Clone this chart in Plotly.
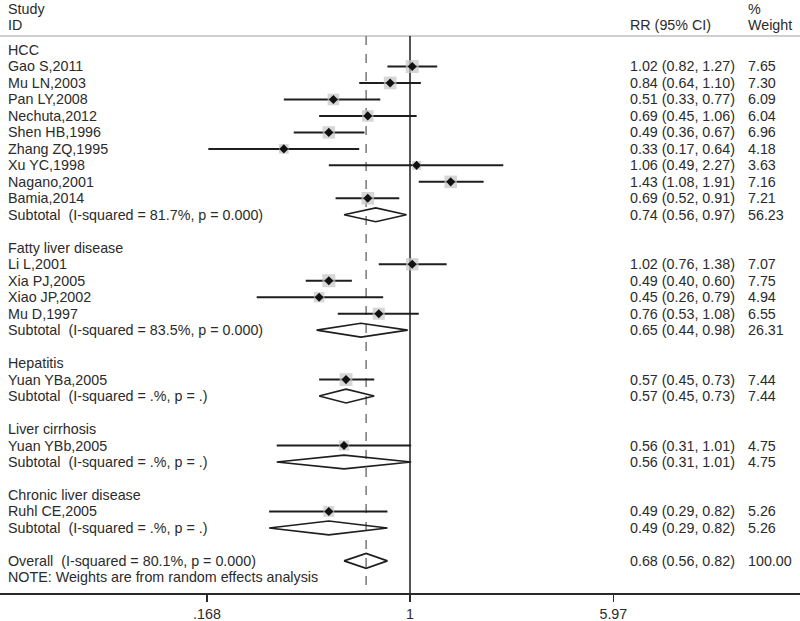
import plotly.graph_objects as go
import math

# ---------------- data ----------------
group_names = ["HCC", "Fatty liver disease", "Hepatitis", "Liver cirrhosis", "Chronic liver disease"]

study_names = ["Gao S,2011", "Mu LN,2003", "Pan LY,2008", "Nechuta,2012", "Shen HB,1996",
               "Zhang ZQ,1995", "Xu YC,1998", "Nagano,2001", "Bamia,2014",
               "Li L,2001", "Xia PJ,2005", "Xiao JP,2002", "Mu D,1997",
               "Yuan YBa,2005",
               "Yuan YBb,2005",
               "Ruhl CE,2005"]
study_group = [0, 0, 0, 0, 0, 0, 0, 0, 0,
               1, 1, 1, 1,
               2,
               3,
               4]
study_rr = [1.02, 0.84, 0.51, 0.69, 0.49, 0.33, 1.06, 1.43, 0.69,
            1.02, 0.49, 0.45, 0.76,
            0.57,
            0.56,
            0.49]
study_lo = [0.82, 0.64, 0.33, 0.45, 0.36, 0.17, 0.49, 1.08, 0.52,
            0.76, 0.40, 0.26, 0.53,
            0.45,
            0.31,
            0.29]
study_hi = [1.27, 1.10, 0.77, 1.06, 0.67, 0.64, 2.27, 1.91, 0.91,
            1.38, 0.60, 0.79, 1.08,
            0.73,
            1.01,
            0.82]
study_weight = [7.65, 7.30, 6.09, 6.04, 6.96, 4.18, 3.63, 7.16, 7.21,
                7.07, 7.75, 4.94, 6.55,
                7.44,
                4.75,
                5.26]

sub_isq = ["81.7%", "83.5%", ".%", ".%", ".%"]
sub_p = ["0.000", "0.000", ".", ".", "."]
sub_rr = [0.74, 0.65, 0.57, 0.56, 0.49]
sub_lo = [0.56, 0.44, 0.45, 0.31, 0.29]
sub_hi = [0.97, 0.98, 0.73, 1.01, 0.82]
sub_weight = [56.23, 26.31, 7.44, 4.75, 5.26]

overall_isq = "80.1%"
overall_p = "0.000"
overall_rr = 0.68
overall_lo = 0.56
overall_hi = 0.82
overall_weight = 100.00

tick_vals = [0.168, 1, 5.97]
tick_text = [".168", "1", "5.97"]

# ---------------- layout of rows ----------------
TXT = "#2b2b2b"
LINE = "#1e1e1e"
FONT = "Liberation Sans, Arial, Helvetica, sans-serif"
FS = 14.3

rows_group = []
rows_study = [None] * len(study_names)
rows_sub = []
r = 0
for g in range(len(group_names)):
    rows_group.append(r)
    r += 1
    for i, sg in enumerate(study_group):
        if sg == g:
            rows_study[i] = r
            r += 1
    rows_sub.append(r)
    r += 2
row_overall = r
row_note = r + 1

PX_ROW = 16.48
TOP_PX = 50.0
AXIS_PX = 593.0
H = 621
W = 800


def row_of_px(px):
    return (px - TOP_PX) / PX_ROW


y_top = row_of_px(0)
y_bot = row_of_px(AXIS_PX)
row_study_hdr = row_of_px(9)
row_id_hdr = row_of_px(25)
row_sep = row_of_px(36)

COL_LABEL = 6 / W
COL_RR = 628 / W
COL_W = 746 / W

fig = go.Figure()

# CI lines for studies
xs, ys = [], []
for i in range(len(study_names)):
    xs += [study_lo[i], study_hi[i], None]
    ys += [rows_study[i], rows_study[i], None]
fig.add_trace(go.Scatter(x=xs, y=ys, mode="lines", line=dict(color=LINE, width=2),
                         hoverinfo="skip", showlegend=False))

# weight boxes
box_sizes = [13.0 * math.sqrt(w / 7.65) for w in study_weight]
fig.add_trace(go.Scatter(x=study_rr, y=rows_study, mode="markers",
                         marker=dict(symbol="square", size=box_sizes, color="#c4c4c4",
                                     line=dict(width=0)),
                         hoverinfo="skip", showlegend=False))
# point estimates
fig.add_trace(go.Scatter(x=study_rr, y=rows_study, mode="markers",
                         marker=dict(symbol="diamond", size=7, color="#111111",
                                     line=dict(width=0)),
                         hoverinfo="skip", showlegend=False))


def diamond(est, lo, hi, row, half):
    return go.Scatter(x=[lo, est, hi, est, lo], y=[row, row - half, row, row + half, row],
                      mode="lines", line=dict(color=LINE, width=1.6),
                      hoverinfo="skip", showlegend=False)


for g in range(len(group_names)):
    fig.add_trace(diamond(sub_rr[g], sub_lo[g], sub_hi[g], rows_sub[g], 0.42))
fig.add_trace(diamond(overall_rr, overall_lo, overall_hi, row_overall, 0.45))

ann = []


def txt(x, y, s, size=FS):
    ann.append(dict(x=x, y=y, xref="paper", yref="y", text=s, showarrow=False,
                    xanchor="left", yanchor="middle",
                    font=dict(family=FONT, size=size, color=TXT)))


# headers
txt(COL_LABEL, row_study_hdr, "Study")
txt(COL_LABEL, row_id_hdr, "ID")
txt(COL_RR, row_id_hdr, "RR (95% CI)")
txt(COL_W, row_study_hdr, "%")
txt(COL_W, row_id_hdr, "Weight")

for g in range(len(group_names)):
    txt(COL_LABEL, rows_group[g], group_names[g])
    lab = "Subtotal\u00a0 (I-squared = %s, p = %s)" % (sub_isq[g], sub_p[g])
    txt(COL_LABEL, rows_sub[g], lab)
    txt(COL_RR, rows_sub[g], "%.2f (%.2f, %.2f)" % (sub_rr[g], sub_lo[g], sub_hi[g]))
    txt(COL_W, rows_sub[g], "%.2f" % sub_weight[g])

for i in range(len(study_names)):
    txt(COL_LABEL, rows_study[i], study_names[i])
    txt(COL_RR, rows_study[i], "%.2f (%.2f, %.2f)" % (study_rr[i], study_lo[i], study_hi[i]))
    txt(COL_W, rows_study[i], "%.2f" % study_weight[i])

txt(COL_LABEL, row_overall, "Overall\u00a0 (I-squared = %s, p = %s)" % (overall_isq, overall_p))
txt(COL_RR, row_overall, "%.2f (%.2f, %.2f)" % (overall_rr, overall_lo, overall_hi))
txt(COL_W, row_overall, "%.2f" % overall_weight)
txt(COL_LABEL, row_note, "NOTE: Weights are from random effects analysis")

shapes = [
    dict(type="line", xref="paper", yref="y", x0=0, x1=1, y0=row_sep, y1=row_sep,
         line=dict(color="#cfcfcf", width=2), layer="below"),
    dict(type="line", xref="x", yref="y", x0=1, x1=1, y0=row_sep, y1=y_bot,
         line=dict(color="#2a2a2a", width=1.6), layer="below"),
    dict(type="line", xref="x", yref="y", x0=overall_rr, x1=overall_rr, y0=row_sep, y1=y_bot,
         line=dict(color="#6e6e6e", width=1.4, dash="dash"), layer="below"),
]

# x range in log10 so that 1 sits at x=410px and 113.8 px per ln unit
PX_PER_LN = 113.8
X_ONE = 410.0
xr = [(-X_ONE / PX_PER_LN) / math.log(10), ((W - X_ONE) / PX_PER_LN) / math.log(10)]

fig.update_layout(
    width=W, height=H,
    margin=dict(l=0, r=0, t=0, b=H - AXIS_PX, pad=0),
    paper_bgcolor="white", plot_bgcolor="white",
    annotations=ann, shapes=shapes,
    showlegend=False,
    xaxis=dict(type="log", range=xr, showgrid=False, zeroline=False,
               showline=True, linecolor="#2a2a2a", linewidth=1.6,
               ticks="outside", ticklen=7, tickwidth=1.6, tickcolor="#2a2a2a",
               tickvals=tick_vals, ticktext=tick_text,
               tickfont=dict(family=FONT, size=FS, color=TXT)),
    yaxis=dict(range=[y_bot, y_top], visible=False, showgrid=False, zeroline=False),
)

fig.write_html("out.html",
               config={"displayModeBar": False, "staticPlot": True},
               post_script="document.body.style.margin='0';document.body.style.overflow='hidden';")
